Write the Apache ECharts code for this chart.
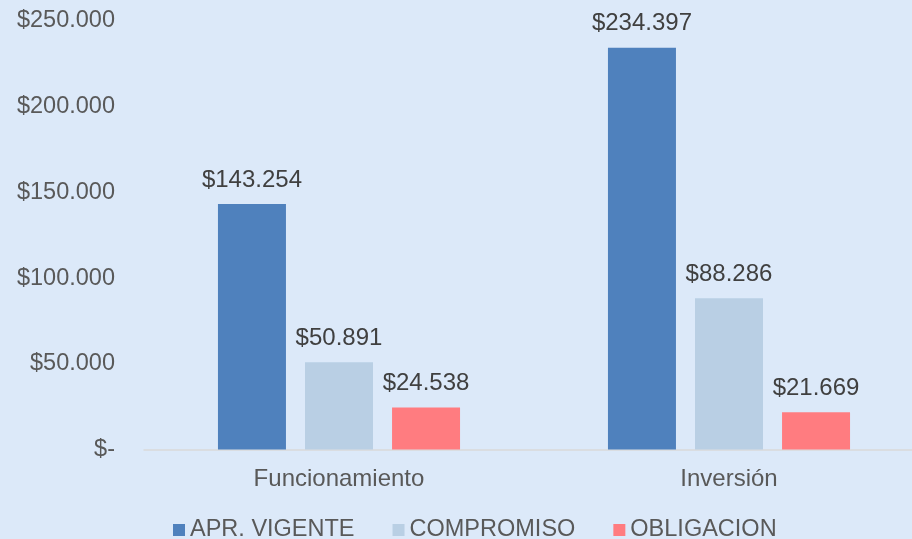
<!DOCTYPE html>
<html>
	<head>
		<meta charset="UTF-8">
		<title></title>
		<style type="text/css">
			* {
				margin: 0;
				padding: 0;
			}
			body {
				background: #dce9f9;
			}
			#chart {
				width: 912px;
				height: 539px;
			}
		</style>
	</head>
	<body>
		<div id="chart"></div>
		<script src="https://cdn.jsdelivr.net/npm/echarts@6/dist/echarts.min.js"></script>
		<script type="text/javascript">
			var categories = ['Funcionamiento', 'Inversión'];
			var seriesNames = ['APR. VIGENTE', 'COMPROMISO', 'OBLIGACION'];
			var aprVigente = [143254, 234397];
			var compromiso = [50891, 88286];
			var obligacion = [24538, 21669];
			var colors = ['#4f81bd', '#b9cfe4', '#ff7c80'];

			// formato de pesos con punto de miles, cero como "$-"
			function pesos(v) {
				if(v === 0) {
					return '$-';
				}
				var s = Math.round(v) + '';
				return '$' + s.replace(/\B(?=(\d{3})+(?!\d))/g, '.');
			}

			var chart = echarts.init(document.getElementById('chart'));
			var data = [aprVigente, compromiso, obligacion];
			var series = [];
			for(var i = 0; i < seriesNames.length; i++) {
				series.push({
					name: seriesNames[i],
					type: 'bar',
					data: data[i],
					barWidth: 68,
					barGap: '28%',
					itemStyle: {
						color: colors[i]
					},
					label: {
						show: true,
						position: 'top',
						distance: 12,
						color: '#404040',
						fontSize: 24,
						fontFamily: 'Liberation Sans',
						formatter: function(p) {
							return pesos(p.value);
						}
					}
				});
			}

			chart.setOption({
				backgroundColor: '#dce9f9',
				animation: false,
				grid: {
					left: 144,
					width: 780,
					top: 21,
					bottom: 89.5,
					containLabel: false,
					outerBoundsMode: 'none'
				},
				legend: {
					data: seriesNames,
					bottom: -8,
					left: 168,
					itemWidth: 12,
					itemHeight: 12,
					itemGap: 38,
					icon: 'rect',
					textStyle: {
						color: '#595959',
						fontSize: 23.5,
						fontFamily: 'Liberation Sans'
					}
				},
				xAxis: {
					type: 'category',
					data: categories,
					axisTick: { show: false },
					axisLine: {
						lineStyle: { color: '#d9d9d9', width: 1.5 }
					},
					axisLabel: {
						color: '#595959',
						fontSize: 24,
						fontFamily: 'Liberation Sans',
						margin: 18
					}
				},
				yAxis: {
					type: 'value',
					min: 0,
					max: 250000,
					interval: 50000,
					splitLine: { show: false },
					axisLine: { show: false },
					axisTick: { show: false },
					axisLabel: {
						color: '#595959',
						fontSize: 23.5,
						fontFamily: 'Liberation Sans',
						margin: 29,
						formatter: pesos
					}
				},
				series: series
			});
		</script>
	</body>
</html>
